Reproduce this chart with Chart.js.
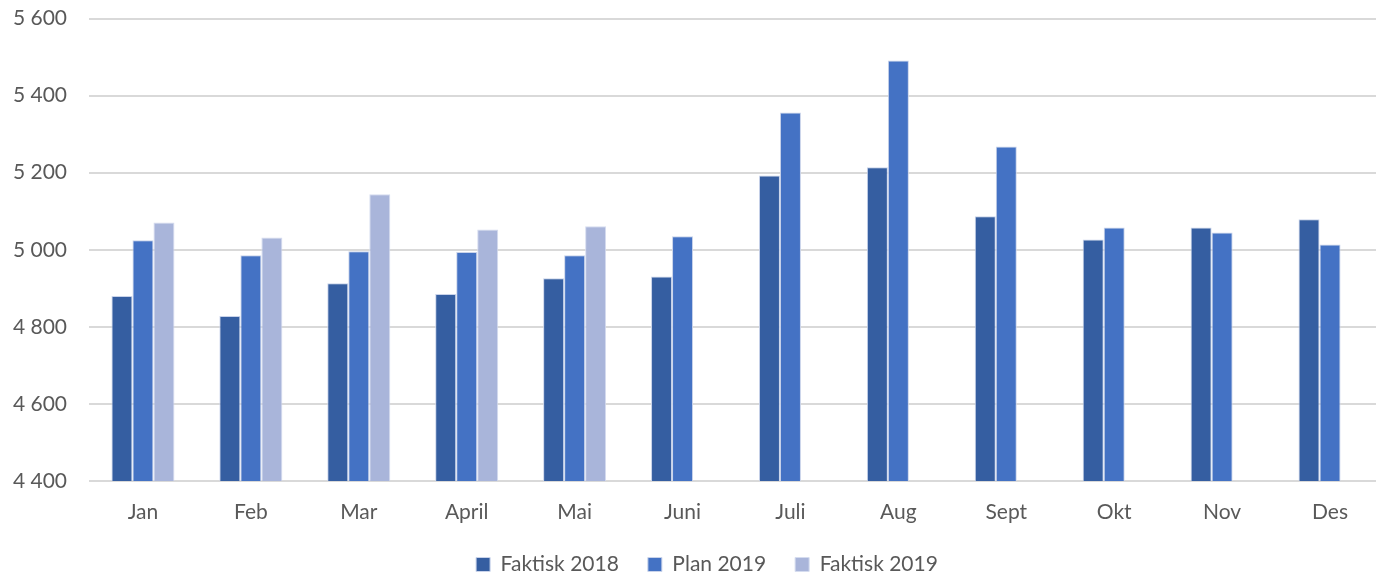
<!DOCTYPE html>
<html>
<head>
<meta charset="utf-8">
<script src="https://cdn.jsdelivr.net/npm/chart.js@4.4.0/dist/chart.umd.min.js"></script>
<style>
  html, body { margin: 0; padding: 0; background: #fff; overflow: hidden; }
  #clip { width: 1376px; height: 577px; overflow: hidden; position: relative; }
  #wrap { width: 1384px; height: 601px; position: absolute; top: -16px; left: 0; }
</style>
</head>
<body>
<div id="clip"><div id="wrap"><canvas id="chart"></canvas></div></div>
<script>
// values
const months = ['Jan', 'Feb', 'Mar', 'April', 'Mai', 'Juni', 'Juli', 'Aug', 'Sept', 'Okt', 'Nov', 'Des'];
const faktisk2018 = [4880, 4828, 4913, 4885, 4926, 4931, 5193, 5214, 5087, 5027, 5058, 5079];
const plan2019 = [5025, 4986, 4996, 4994, 4986, 5035, 5356, 5491, 5268, 5058, 5045, 5014];
const faktisk2019 = [5071, 5032, 5144, 5053, 5061, null, null, null, null, null, null, null];

const textColor = '#595959';
const font = { family: 'Lato, "Open Sans", sans-serif', size: 21 };

const ctx = document.getElementById('chart').getContext('2d');
new Chart(ctx, {
  type: 'bar',
  data: {
    labels: months,
    datasets: [
      { label: 'Faktisk 2018', data: faktisk2018, backgroundColor: '#355ea1', borderColor: '#c9d3ea', borderWidth: 1 },
      { label: 'Plan 2019', data: plan2019, backgroundColor: '#4472c4', borderColor: '#c9d3ea', borderWidth: 1 },
      { label: 'Faktisk 2019', data: faktisk2019, backgroundColor: '#a9b5da', borderColor: '#d5dcef', borderWidth: 1 }
    ]
  },
  options: {
    responsive: true,
    maintainAspectRatio: false,
    animation: false,
    layout: { padding: { top: 0, right: -30, bottom: 0, left: 0 } },
    datasets: {
      bar: { categoryPercentage: 0.584, barPercentage: 1.0 }
    },
    scales: {
      x: {
        afterFit: (s) => { s.height = 44; },
        grid: { display: false },
        border: { display: false },
        ticks: { color: textColor, font: font, padding: 11 }
      },
      y: {
        min: 4400,
        max: 5600,
        afterFit: (s) => { s.width = 89; },
        grid: { color: '#d9d9d9', lineWidth: 2, drawTicks: false },
        border: { display: false },
        ticks: {
          stepSize: 200,
          color: textColor,
          font: font,
          padding: 22,
          callback: (v) => String(v).replace(/\B(?=(\d{3})+(?!\d))/g, ' ')
        }
      }
    },
    plugins: {
      legend: {
        position: 'bottom',
        labels: {
          color: textColor,
          font: font,
          boxWidth: 14,
          boxHeight: 14,
          padding: 29,
          useBorderRadius: false
        }
      },
      tooltip: { enabled: false }
    }
  }
});
</script>
</body>
</html>
